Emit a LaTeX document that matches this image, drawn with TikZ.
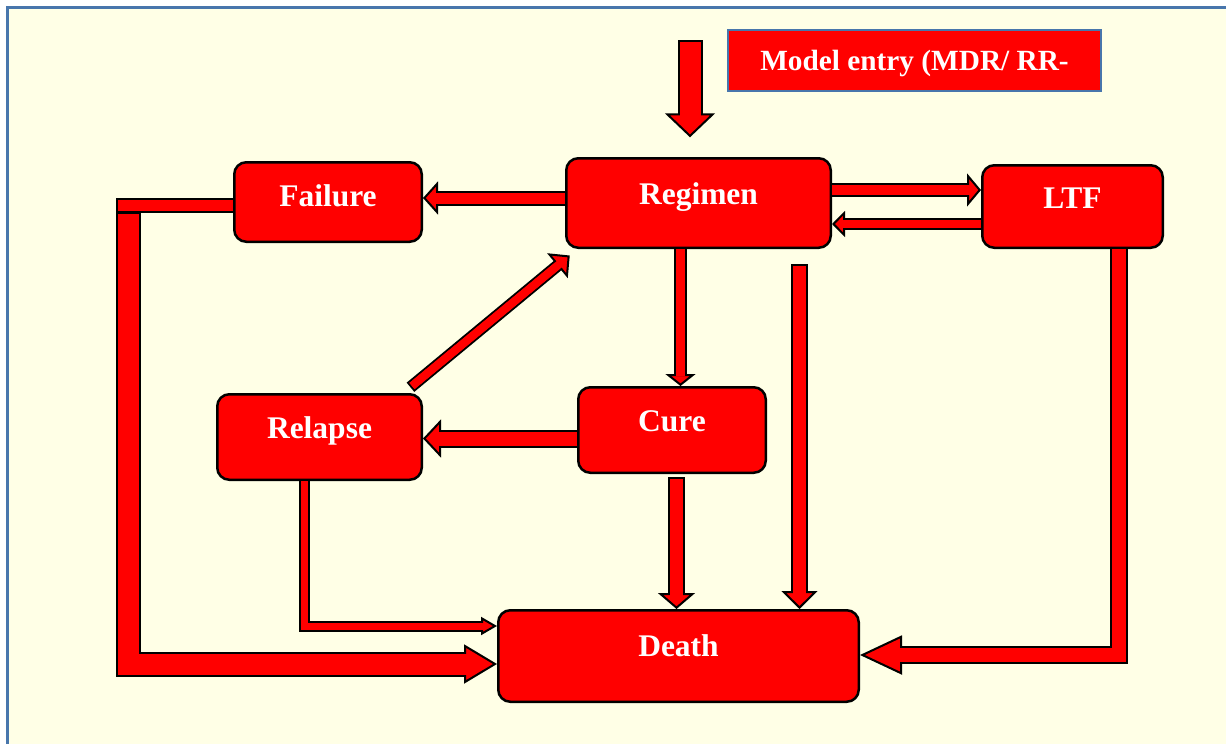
\documentclass[tikz,border=0pt]{standalone}
\usepackage{fontspec}
\setmainfont{Liberation Serif}
\usepackage{tikz}
\usetikzlibrary{positioning, arrows.meta}
\definecolor{bgyellow}{RGB}{255,255,230}
\definecolor{frameblue}{RGB}{72,118,172}

\begin{document}
\begin{tikzpicture}[
            x=1pt, y=-1pt,
            state/.style={draw=black, fill=red, line width=2.5pt, rounded corners=12pt, text=white,
                          font=\fontsize{31.5pt}{36pt}\selectfont\bfseries, inner sep=0pt,
                          text height=22pt, text depth=19pt},
            entry/.style={draw=frameblue, fill=red, line width=2pt, text=white, inner sep=0pt,
                          font=\fontsize{29.3pt}{34pt}\selectfont\bfseries,
                          text height=22pt, text depth=3pt},
            blk/.style n args={3}{draw=red, line width=#1-4pt, line join=miter,
                          -{Triangle[length=#2, width=#3, color=black, fill=red, line width=2pt]},
                          preaction={draw=black, line width=#1, -, shorten <=-2pt, shorten >=0.8*#2},
                          postaction={draw=red, line width=#1-4pt, -, shorten >=0.8*#2}},
            bar/.style={draw=red, line width=#1-4pt, line join=miter,
                          preaction={draw=black, line width=#1, shorten <=-2pt, shorten >=-2pt}}
        ]
            \useasboundingbox (0,0) rectangle (1226,744);
            \clip (0,0) rectangle (1226,744);
            \fill[white] (0,0) rectangle (1226,744);
            \draw[fill=bgyellow, draw=frameblue, line width=2.2pt] (7.5,7.5) rectangle (1240,760);

            \node[entry, minimum width=373pt, minimum height=61pt] (mdr) at (914.5,60.5) {Model entry (MDR/ RR-};
            \node[state, minimum width=264.5pt, minimum height=89.5pt] (reg) at (698.5,203) {Regimen};
            \node[state, minimum width=187.5pt, minimum height=79.5pt, text depth=14pt] (fail) at (328,202) {Failure};
            \node[state, minimum width=180.5pt, minimum height=82.5pt] (ltf) at (1072.5,206.5) {LTF};
            \node[state, minimum width=204.5pt, minimum height=85.5pt] (rel) at (319.5,437) {Relapse};
            \node[state, minimum width=187.5pt, minimum height=85.5pt] (cure) at (672,430) {Cure};
            \node[state, minimum width=360.5pt, minimum height=91.5pt, text depth=22pt] (death) at (678.5,656) {Death};

            \coordinate (in) at (690,42);
            \coordinate (inend) at (690,137.3);
            \coordinate (fc) at (118,205.8);
            \coordinate (fv) at (128.7,214);

            \draw[blk={25pt}{24pt}{50pt}] (in) -- (inend);
            \draw[blk={15pt}{15pt}{33pt}] ([yshift=5pt]reg.west) -- ([yshift=5pt]reg.west -| fail.east);
            \draw[blk={14pt}{14pt}{33pt}] ([yshift=13pt]reg.east) -- ([yshift=13pt]reg.east -| ltf.west);
            \draw[blk={12pt}{13pt}{26pt}] ([yshift=-17.5pt]ltf.west) -- ([yshift=-17.5pt]ltf.west -| reg.east);
            \draw[blk={13pt}{12pt}{30pt}] ([xshift=-18pt]reg.south) -- ([xshift=-18pt]reg.south |- cure.north);
            \draw[blk={17pt}{18pt}{36pt}] ([xshift=101pt, yshift=-17pt]reg.south) -- ([xshift=101pt]reg.south |- death.north);
            \draw[blk={17pt}{16pt}{37pt}] ([xshift=4.5pt, yshift=-5pt]cure.south) -- ([xshift=4.5pt]cure.south |- death.north);
            \draw[blk={18pt}{18pt}{38pt}] ([yshift=-8.5pt]cure.west) -- ([yshift=-8.5pt]cure.west -| rel.east);
            \draw[blk={12pt}{16pt}{32pt}] ([xshift=-11pt, yshift=7pt]rel.north east) -- ([xshift=4.75pt, yshift=-6.5pt]reg.south west);
            \draw[blk={11pt}{16pt}{18pt}] ([xshift=-15pt]rel.south) |- ([yshift=30pt]death.west);
            \draw[blk={25pt}{33pt}{39pt}] (fv) |- ([yshift=-8pt]death.west);
            \draw[bar=15pt] ([yshift=-3.8pt]fail.west) -- (fc);
            \draw[blk={18pt}{42pt}{39pt}] ([xshift=46.5pt]ltf.south) |- ([yshift=1pt]death.east);
        \end{tikzpicture}
\end{document}
